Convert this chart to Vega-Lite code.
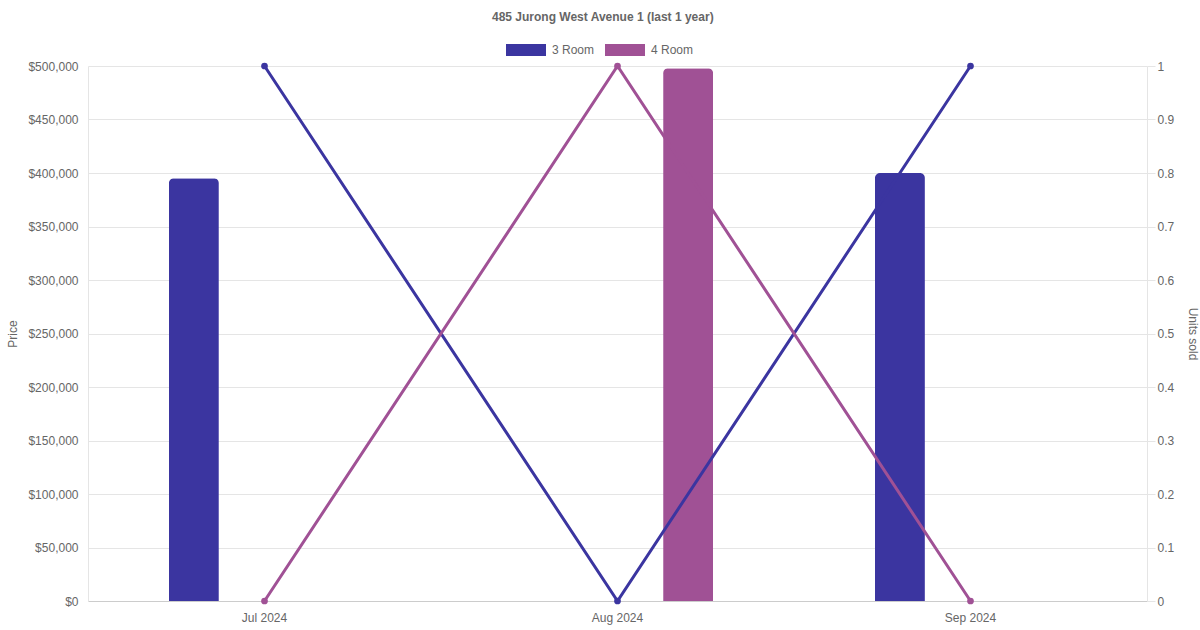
{
  "$schema": "https://vega.github.io/schema/vega-lite/v6.json",
  "width": 1059,
  "height": 535,
  "autosize": {"type": "none"},
  "padding": {"left": 88, "top": 66, "right": 53, "bottom": 29},
  "background": "white",
  "title": {
    "text": "485 Jurong West Avenue 1 (last 1 year)",
    "anchor": "middle",
    "frame": "bounds",
    "font": "Liberation Sans",
    "fontSize": 12,
    "fontWeight": "bold",
    "color": "#666666",
    "offset": 6
  },
  "config": {
    "view": {"stroke": null},
    "font": "Liberation Sans",
    "axis": {
      "labelFont": "Liberation Sans",
      "labelFontSize": 12,
      "labelColor": "#666666",
      "titleFont": "Liberation Sans",
      "titleFontSize": 12,
      "titleFontWeight": "normal",
      "titleColor": "#666666",
      "gridColor": "#e5e5e5",
      "domainColor": "#e5e5e5",
      "tickColor": "#e5e5e5"
    }
  },
  "data": {
    "values": [
      {"month": "Jul 2024", "type": "3 Room", "price": 395000, "units": 1},
      {"month": "Jul 2024", "type": "4 Room", "price": null, "units": 0},
      {"month": "Aug 2024", "type": "3 Room", "price": null, "units": 0},
      {"month": "Aug 2024", "type": "4 Room", "price": 498000, "units": 1},
      {"month": "Sep 2024", "type": "3 Room", "price": 400000, "units": 1},
      {"month": "Sep 2024", "type": "4 Room", "price": null, "units": 0}
    ]
  },
  "encoding": {
    "x": {
      "field": "month",
      "type": "nominal",
      "sort": ["Jul 2024", "Aug 2024", "Sep 2024"],
      "scale": {"paddingInner": 0, "paddingOuter": 0},
      "axis": {
        "title": null,
        "labelAngle": 0,
        "ticks": false,
        "tickSize": 0,
        "labelPadding": 11,
        "grid": false,
        "domainColor": "#cccccc"
      }
    },
    "color": {
      "field": "type",
      "type": "nominal",
      "scale": {"domain": ["3 Room", "4 Room"], "range": ["#3b35a0", "#a05195"]},
      "legend": {
        "title": null,
        "orient": "none",
        "direction": "horizontal",
        "legendX": 418,
        "legendY": -36,
        "symbolType": "M-1,-0.3H1V0.3H-1Z",
        "symbolSize": 1600,
        "symbolStrokeWidth": 0,
        "labelFontSize": 12,
        "labelColor": "#666666",
        "labelFont": "Liberation Sans",
        "labelOffset": 6,
        "columnPadding": 10
      }
    }
  },
  "layer": [
    {
      "mark": {"type": "bar", "width": 50, "cornerRadiusEnd": 5},
      "encoding": {
        "xOffset": {
          "field": "type",
          "type": "nominal",
          "scale": {"domain": ["3 Room", "4 Room"], "paddingInner": 0.646, "paddingOuter": 0.573}
        },
        "y": {
          "field": "price",
          "type": "quantitative",
          "scale": {"domain": [0, 500000], "nice": false},
          "axis": {
            "title": "Price",
            "orient": "left",
            "format": "$,d",
            "tickCount": 10,
            "ticks": false,
            "tickSize": 0,
            "labelPadding": 10,
            "titlePadding": 8
          }
        }
      }
    },
    {
      "mark": {"type": "line", "strokeWidth": 3, "point": {"filled": true, "size": 45}},
      "encoding": {
        "y": {
          "field": "units",
          "type": "quantitative",
          "scale": {"domain": [0, 1], "nice": false},
          "axis": {
            "title": "Units sold",
            "orient": "right",
            "tickCount": 10,
            "format": ".1~f",
            "grid": false,
            "tickSize": 8,
            "labelPadding": 2,
            "titlePadding": 12
          }
        }
      }
    }
  ],
  "resolve": {"scale": {"y": "independent"}}
}
